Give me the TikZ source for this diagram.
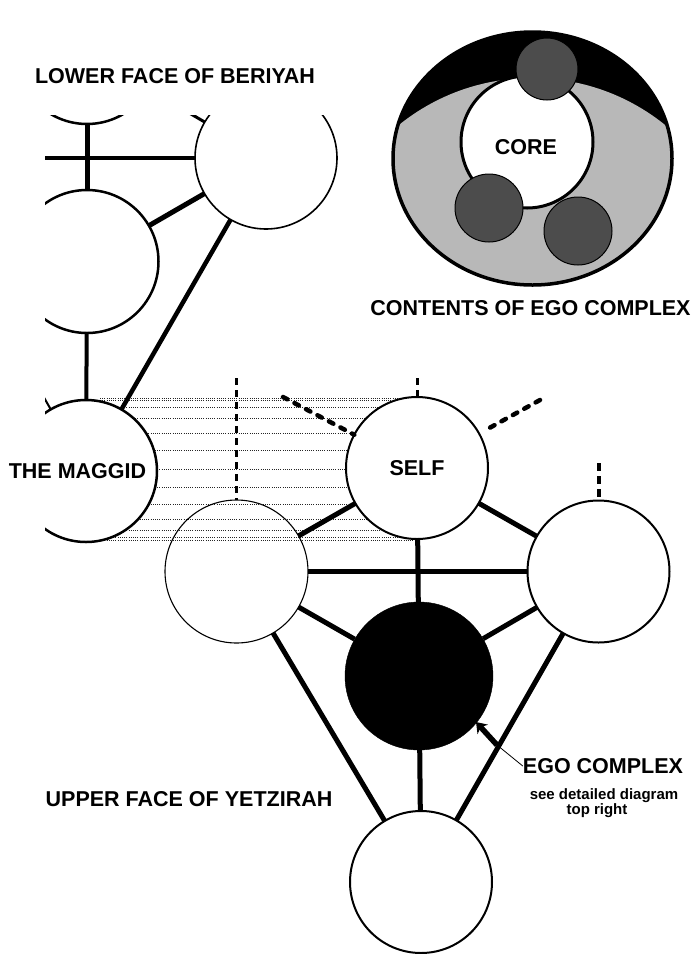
\documentclass[tikz,border=0pt]{standalone}
\usepackage{fontspec}
\setmainfont{Liberation Sans}
\usetikzlibrary{arrows.meta}
\begin{document}
\begin{tikzpicture}[x=1pt,y=-1pt,
  sef/.style={circle, draw, line width=2pt, fill=white, minimum size=142pt, inner sep=0pt, outer sep=0pt},
  conn/.style={line width=5pt},
  hatch/.style={line width=0.8pt, dash pattern=on 1pt off 1.2pt, black!85},
  vdash/.style={line width=2.6pt, dash pattern=on 7pt off 5pt},
  rdash/.style={line width=4.5pt, line cap=round, dash pattern=on 5pt off 8pt},
  lab/.style={font=\bfseries\fontsize{21.5}{24}\selectfont, inner sep=0pt},
  smalllab/.style={font=\bfseries\fontsize{15}{15}\selectfont, inner sep=0pt},
  dot/.style={circle, fill=black!70, draw=black, line width=1pt, inner sep=0pt},
]
\useasboundingbox (0,0) rectangle (699,954);

% hatching between the Maggid and the Self
\foreach \k in {-6,...,6} {
  \draw[hatch] (100,{469+71*sin(15*\k)}) -- (417,{469+71*sin(15*\k)});
}

\begin{scope}
\clip (45,115) rectangle (699,954);
% Beriyah
\node[sef, line width=2.5pt] (tlB) at (87,53) {};
\node[sef, line width=1.6pt] (trB) at (266,158) {};
\node[sef, line width=2.5pt, minimum size=143pt] (mlB) at (87,261.5) {};
\node[sef, line width=2.5pt] (mag) at (86,471) {};
\coordinate (farL) at (-100,158);
\coordinate (farM) at (-93,158);
% Yetzirah
\node[sef, font=\bfseries\fontsize{21.5}{24}\selectfont] (self) at (417,468) {SELF};
\node[sef, fill=none, line width=1.1pt, minimum size=143pt] (ll) at (236.5,571.5) {};
\node[sef] (rc) at (598.5,571.5) {};
\node[circle, fill=black, draw=black, minimum size=148pt, inner sep=0pt] (ego) at (419,676) {};
\node[sef] (bc) at (421,882) {};

% connectors
\draw[conn] (tlB) -- (mlB);
\draw[conn, line width=4pt] (farL) -- (trB);
\draw[conn] (mlB) -- (trB);
\draw[conn, line width=4.5pt] (trB) -- (mag);
\draw[conn, line width=4pt] (mlB) -- (mag);
\draw[conn, line width=3pt] (trB) -- (tlB);
\draw[conn, line width=2pt] (mag) -- (farM);

\draw[conn] (self) -- (ll);
\draw[conn] (self) -- (rc);
\draw[conn] (self) -- (ego);
\draw[conn] (ll) -- (rc);
\draw[conn] (ll) -- (ego);
\draw[conn] (rc) -- (ego);
\draw[conn] (ll) -- (bc);
\draw[conn] (rc) -- (bc);
\draw[conn] (ego) -- (bc);

% dashed stubs
\coordinate (d1) at (236.5,378);
\coordinate (d2) at (417,378);
\coordinate (d3) at (283,397);
\coordinate (d4) at (540,400);
\coordinate (d5) at (598.5,463);
\draw[vdash] (d1) -- (ll.north);
\draw[vdash, line width=3pt] (d2) -- (self.north);
\draw[rdash] (d3) -- (self);
\draw[rdash, shorten >=6pt] (d4) -- (self);
\draw[line width=4pt, dash pattern=on 8pt off 5pt] (d5) -- (rc.north);
\end{scope}

% labels
\node[lab] (beriyah) at (175,76) {LOWER FACE OF BERIYAH};
\node[lab] (maggid) at (77.5,471) {THE MAGGID};
\node[lab] (yetz) at (189,799) {UPPER FACE OF YETZIRAH};
\node[lab] (egolab) at (603,766) {EGO COMPLEX};
\node[smalllab] (see) at (604,796) {see detailed diagram};
\node[smalllab] (topr) at (597,811) {top right};

% pointer arrow
\coordinate (ap) at (497,745);
\coordinate (at) at (476,722);
\draw[line width=0.8pt] (egolab.west) -- (ap);
\draw[line width=5.5pt, -{Stealth[length=10pt,width=14pt,inset=3pt]}] (ap) -- (at);

% contents of ego complex
\fill[black] (532.5,158.5) ellipse [x radius=139.5, y radius=126.5];
\begin{scope}
  \clip (532.5,158.5) ellipse [x radius=139.5, y radius=126.5];
  \fill[black!28] (532,290) circle [radius=212];
\end{scope}
\draw[line width=3.5pt] (532.5,158.5) ellipse [x radius=139.5, y radius=126.5];
\node[circle, fill=white, draw=black, line width=3pt, minimum size=132pt, inner sep=0pt] (core) at (527,142) {};
\node[lab] (coretxt) at (526,147.5) {CORE};
\node[dot, minimum size=62pt] (s1) at (547,69) {};
\node[dot, minimum size=68pt] (s2) at (489,208) {};
\node[dot, minimum size=68pt] (s3) at (578,231) {};
\node[lab] (contents) at (530.5,308) {CONTENTS OF EGO COMPLEX};
\end{tikzpicture}
\end{document}
